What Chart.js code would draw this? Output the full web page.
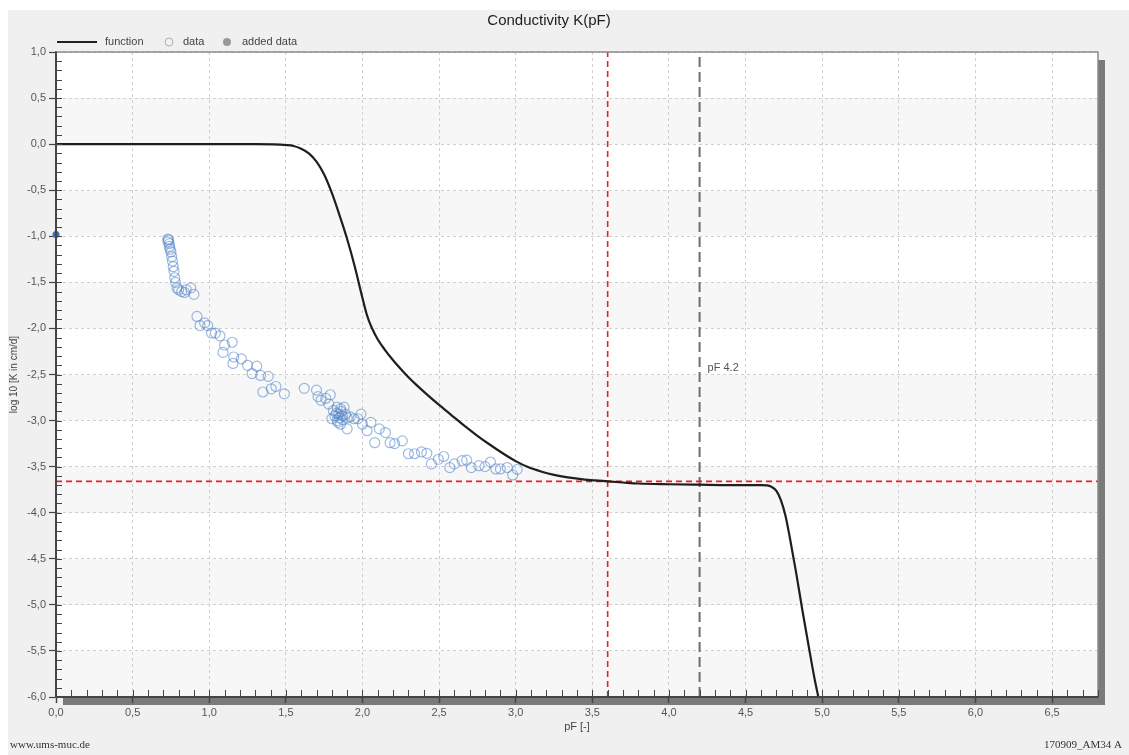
<!DOCTYPE html>
<html lang="de">
<head>
<meta charset="UTF-8">
<title>Conductivity K(pF)</title>
<script src="https://cdn.jsdelivr.net/npm/chart.js"></script>
<style>
  body { margin: 0; background: #fff; }
  #chart { display: block; }
</style>
</head>
<body>
<canvas id="chart" width="1129" height="755"></canvas>
<script>
// fitted conductivity function (pF -> log10 K)
const funcPF = [0, 0.5, 1.0, 1.3, 1.42, 1.5, 1.55, 1.6, 1.65, 1.7, 1.75, 1.8, 1.85, 1.9, 1.95, 2.0, 2.03, 2.06, 2.1, 2.15,
  2.2, 2.25, 2.3, 2.35, 2.42, 2.5, 2.58, 2.66, 2.75, 2.83, 2.92, 3.0, 3.08, 3.17, 3.25, 3.34, 3.45, 3.52, 3.6, 3.7,
  3.8, 4.0, 4.2, 4.4, 4.6, 4.64, 4.67, 4.7, 4.73, 4.76, 4.79, 4.83, 4.87, 4.91, 4.95, 4.975];
const funcLogK = [0, 0, 0, 0, -0.003, -0.01, -0.02, -0.05, -0.1, -0.19, -0.33, -0.53, -0.77, -1.03, -1.33, -1.67, -1.86, -1.99, -2.12, -2.24,
  -2.345, -2.44, -2.53, -2.61, -2.715, -2.83, -2.94, -3.05, -3.165, -3.26, -3.36, -3.44, -3.505, -3.555, -3.59, -3.617, -3.64, -3.65, -3.66, -3.672,
  -3.683, -3.691, -3.696, -3.7, -3.7, -3.703, -3.72, -3.76, -3.86, -4.03, -4.28, -4.65, -5.05, -5.43, -5.8, -6.0];

// measured data
const dataPF = [0.73, 0.735, 0.73, 0.74, 0.74, 0.745, 0.75, 0.755, 0.76, 0.765, 0.77, 0.775, 0.78, 0.79, 0.8, 0.82, 0.84, 0.85, 0.88, 0.9,
  0.92, 0.94, 0.97, 0.99, 1.015, 1.04, 1.07, 1.1, 1.15, 1.09, 1.16, 1.155, 1.21, 1.25, 1.31, 1.28, 1.335, 1.385, 1.35, 1.405, 1.435, 1.49,
  1.62, 1.7, 1.71, 1.73, 1.76, 1.79, 1.78, 1.81, 1.835, 1.857, 1.88, 1.82, 1.845, 1.87, 1.8, 1.835, 1.857, 1.89, 1.9, 1.92, 1.945, 1.97,
  2.0, 1.99, 2.055, 2.03, 2.11, 2.15, 2.08, 2.18, 2.21, 2.26, 2.3, 2.34, 2.385, 2.42, 2.45, 2.495, 2.53, 2.57, 2.6, 2.65, 2.68, 2.71,
  2.76, 2.8, 2.835, 2.87, 2.9, 2.945, 2.98, 3.01, 1.83, 1.85, 1.86, 1.84, 1.87, 1.9];
const dataLogK = [-1.03, -1.04, -1.06, -1.08, -1.11, -1.14, -1.17, -1.22, -1.27, -1.33, -1.38, -1.45, -1.5, -1.56, -1.58, -1.6, -1.61, -1.58, -1.56, -1.63,
  -1.87, -1.97, -1.94, -1.97, -2.05, -2.05, -2.08, -2.18, -2.15, -2.26, -2.31, -2.38, -2.33, -2.4, -2.41, -2.49, -2.51, -2.52, -2.69, -2.655, -2.63, -2.71,
  -2.65, -2.67, -2.74, -2.78, -2.76, -2.72, -2.82, -2.89, -2.855, -2.87, -2.855, -2.95, -2.93, -2.95, -2.98, -3.0, -3.04, -2.93, -3.09, -2.96, -2.98, -2.98,
  -3.04, -2.93, -3.02, -3.11, -3.09, -3.13, -3.24, -3.24, -3.25, -3.22, -3.36, -3.36, -3.34, -3.355, -3.47, -3.42, -3.39, -3.51, -3.47, -3.435, -3.43, -3.51,
  -3.49, -3.5, -3.45, -3.525, -3.525, -3.51, -3.59, -3.53, -2.92, -2.97, -2.9, -3.02, -2.99, -2.97];

const addedPF = [0.0];
const addedLogK = [-0.98];

// marker lines
const markPF = 3.6;
const markLogK = -3.66;
const refPF = 4.2;
const refText = 'pF 4.2';

const yMin = -6, yMax = 1;
const xMin = 0, xMax = 6.8;

const FONT = '"Liberation Sans", Arial, sans-serif';

const toPts = (xs, ys) => xs.map((x, i) => ({ x: x, y: ys[i] }));
const comma = v => Number(v).toFixed(1).replace('.', ',');

const decor = {
  id: 'decor',
  beforeDraw(chart) {
    const { ctx, chartArea: ca, width, height } = chart;
    const ys = chart.scales.y;
    ctx.save();
    ctx.fillStyle = '#fff';
    ctx.fillRect(0, 0, width, height);
    ctx.fillStyle = '#f0f0f0';
    ctx.fillRect(8, 10, width - 8, height - 10);
    // shadow
    ctx.fillStyle = '#7a7a7a';
    ctx.fillRect(ca.left + 7, ca.top + 8, ca.width, ca.height);
    ctx.fillStyle = '#fff';
    ctx.fillRect(ca.left, ca.top, ca.width, ca.height);
    // alternating bands
    ctx.fillStyle = '#f7f7f7';
    for (let i = 0; i < 14; i++) {
      if (i % 2 === 0) continue;
      const y1 = ys.getPixelForValue(yMax - i * 0.5);
      const y2 = ys.getPixelForValue(yMax - (i + 1) * 0.5);
      ctx.fillRect(ca.left, y1, ca.width, y2 - y1);
    }
    ctx.restore();
  },
  afterDraw(chart) {
    const { ctx, chartArea: ca, width } = chart;
    const xs = chart.scales.x, ys = chart.scales.y;
    ctx.save();
    // frame
    ctx.strokeStyle = '#8a8a8a';
    ctx.lineWidth = 1.5;
    ctx.strokeRect(ca.left, ca.top, ca.width, ca.height);
    ctx.strokeStyle = '#444';
    ctx.lineWidth = 2;
    ctx.beginPath();
    ctx.moveTo(ca.left, ca.top); ctx.lineTo(ca.left, ca.bottom); ctx.lineTo(ca.right, ca.bottom);
    ctx.stroke();
    // minor ticks
    ctx.lineWidth = 1;
    ctx.strokeStyle = '#444';
    ctx.beginPath();
    for (let i = 1; i <= 68; i++) {
      const px = Math.round(xs.getPixelForValue(i / 10)) + 0.5;
      ctx.moveTo(px, ca.bottom); ctx.lineTo(px, ca.bottom - 7);
    }
    for (let i = -59; i <= 9; i++) {
      const py = Math.round(ys.getPixelForValue(i / 10)) + 0.5;
      ctx.moveTo(ca.left, py); ctx.lineTo(ca.left + 6, py);
    }
    ctx.stroke();

    // legend
    const ly = ca.top - 10;
    ctx.font = '11px ' + FONT;
    ctx.fillStyle = '#444';
    ctx.textBaseline = 'middle';
    ctx.strokeStyle = '#222';
    ctx.lineWidth = 2;
    ctx.beginPath(); ctx.moveTo(ca.left + 1, ly); ctx.lineTo(ca.left + 41, ly); ctx.stroke();
    ctx.fillText('function', ca.left + 49, ly);
    ctx.strokeStyle = '#b0b0b0';
    ctx.lineWidth = 1;
    ctx.beginPath(); ctx.arc(ca.left + 113, ly, 4, 0, Math.PI * 2); ctx.stroke();
    ctx.fillText('data', ca.left + 127, ly);
    ctx.fillStyle = '#999';
    ctx.beginPath(); ctx.arc(ca.left + 171, ly, 4, 0, Math.PI * 2); ctx.fill();
    ctx.fillStyle = '#444';
    ctx.fillText('added data', ca.left + 186, ly);

    // label on reference line
    ctx.fillStyle = '#555';
    ctx.fillText(refText, xs.getPixelForValue(refPF) + 8, ys.getPixelForValue(-2.43));

    // footer
    ctx.font = '11px "Liberation Serif", "Times New Roman", serif';
    ctx.fillStyle = '#333';
    ctx.textAlign = 'left';
    ctx.fillText('www.ums-muc.de', 10, 745);
    ctx.textAlign = 'right';
    ctx.fillText('170909_AM34 A', width - 7, 745);
    ctx.restore();
  }
};

new Chart(document.getElementById('chart'), {
  type: 'line',
  data: {
    datasets: [
      {
        label: 'function',
        data: toPts(funcPF, funcLogK),
        borderColor: '#1e1e1e',
        borderWidth: 2.2,
        pointRadius: 0,
        cubicInterpolationMode: 'monotone',
        fill: false
      },
      {
        label: 'data',
        data: toPts(dataPF, dataLogK),
        showLine: false,
        pointRadius: 5,
        pointBorderWidth: 1.2,
        pointBorderColor: 'rgba(80, 132, 200, 0.55)',
        pointBackgroundColor: 'rgba(0,0,0,0)'
      },
      {
        label: 'added data',
        data: toPts(addedPF, addedLogK),
        showLine: false,
        clip: false,
        pointRadius: 3.5,
        pointBorderWidth: 0,
        pointBackgroundColor: '#3b6fc2'
      },
      {
        label: 'mark pF',
        data: [{ x: markPF, y: yMin }, { x: markPF, y: yMax }],
        borderColor: '#e8202a',
        borderWidth: 1.6,
        borderDash: [6, 4],
        pointRadius: 0
      },
      {
        label: 'mark K',
        data: [{ x: xMin, y: markLogK }, { x: xMax, y: markLogK }],
        borderColor: '#e8202a',
        borderWidth: 1.6,
        borderDash: [6, 4],
        pointRadius: 0
      },
      {
        label: refText,
        data: [{ x: refPF, y: yMin }, { x: refPF, y: yMax }],
        borderColor: '#6e6e6e',
        borderWidth: 2,
        borderDash: [10, 5],
        pointRadius: 0
      }
    ]
  },
  options: {
    responsive: false,
    animation: false,
    layout: { padding: { left: 0, right: 31, top: 0, bottom: 0 } },
    plugins: {
      legend: { display: false },
      tooltip: { enabled: false },
      title: {
        display: true,
        text: 'Conductivity K(pF)',
        color: '#1e1e1e',
        font: { family: FONT, size: 15, weight: 'normal' },
        padding: { top: 12, bottom: 22 }
      }
    },
    scales: {
      x: {
        type: 'linear',
        min: xMin,
        max: xMax,
        afterFit: s => { s.height = 58; },
        ticks: {
          stepSize: 0.5,
          includeBounds: false,
          padding: 3,
          color: '#555',
          font: { family: FONT, size: 11 },
          callback: v => comma(v)
        },
        grid: { color: '#cfcfcf', tickColor: '#444', tickLength: 6, tickWidth: 1.5 },
        border: { display: true, color: '#444', width: 2, dash: [3, 3] },
        title: {
          display: true,
          text: 'pF [-]',
          color: '#444',
          font: { family: FONT, size: 11 },
          padding: { top: 0, bottom: 21 }
        }
      },
      y: {
        type: 'linear',
        min: yMin,
        max: yMax,
        afterFit: s => { s.width = 56; },
        ticks: {
          stepSize: 0.5,
          padding: 3,
          color: '#555',
          font: { family: FONT, size: 11 },
          callback: v => comma(v)
        },
        grid: { color: '#cfcfcf', tickColor: '#444', tickLength: 7, tickWidth: 1.2 },
        border: { display: true, color: '#444', width: 2, dash: [3, 3] },
        title: {
          display: true,
          text: 'log 10 [K in cm/d]',
          color: '#444',
          font: { family: FONT, size: 10 },
          padding: { top: 8, bottom: 0 }
        }
      }
    }
  },
  plugins: [decor]
});
</script>
</body>
</html>
